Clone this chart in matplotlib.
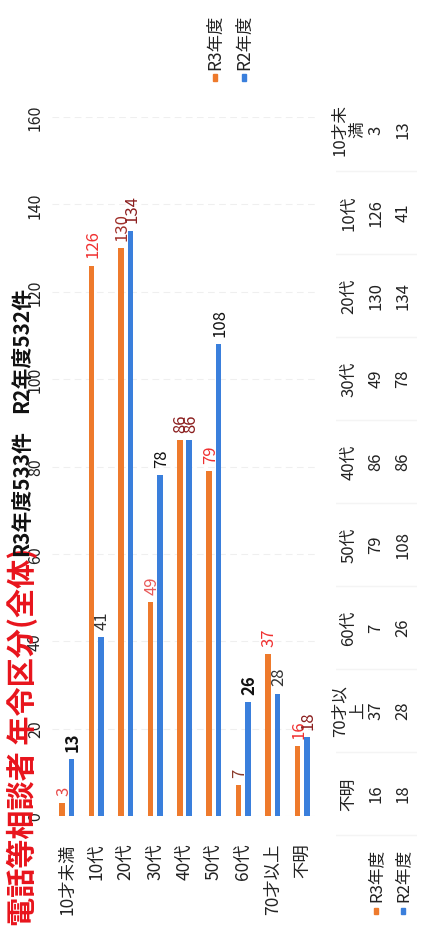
import matplotlib
matplotlib.use("Agg")
import matplotlib.pyplot as plt
from matplotlib.patches import Rectangle

plt.rcParams['font.family'] = ['Noto Sans CJK JP', 'DejaVu Sans']

# data
categories = ['10才未満', '10代', '20代', '30代', '40代', '50代', '60代', '70才以上', '不明']
table_headers = ['10才未\n満', '10代', '20代', '30代', '40代', '50代', '60代', '70才以\n上', '不明']
r3_values = [3, 126, 130, 49, 86, 79, 7, 37, 16]
r2_values = [13, 41, 134, 78, 86, 108, 26, 28, 18]
series_names = ['R3年度', 'R2年度']
value_ticks = [0, 20, 40, 60, 80, 100, 120, 140, 160]

title_red = '電話等相談者 年令区分(全体)'
title_black = ['R3年度533件', 'R2年度532件']

# styles
ORANGE = '#ee7a2c'
BLUE = '#3a7fdc'
r3_label_colors = ['#e84a4a', '#f03030', '#a0302a', '#e85a5a', '#8b1e1e', '#f03030', '#8b3a2a', '#f03030', '#f03030']
r2_label_colors = ['#111111', '#333333', '#8b1e1e', '#111111', '#8b1e1e', '#111111', '#111111', '#333333', '#8b1e1e']

W, H = 426, 928
fig = plt.figure(figsize=(W / 100, H / 100), dpi=100)


def px(x0, y0, x1, y1):
    # pixel box measured from the top-left corner -> figure rect
    return [x0 / W, 1 - y1 / H, (x1 - x0) / W, (y1 - y0) / H]


# the page is turned on its side: bars grow upward, all text reads bottom to top
ax = fig.add_axes(px(52.3, 118, 316.7, 817))
idx = list(range(len(categories)))
bw = 0.19
off = 0.16
ax.bar([i - off for i in idx], r3_values, width=bw, color=ORANGE, zorder=2)
ax.bar([i + off for i in idx], r2_values, width=bw, color=BLUE, zorder=2)

for i in idx:
    ax.annotate(str(r3_values[i]), (i - off, r3_values[i]), xytext=(1, 6),
                textcoords='offset points', rotation=90, ha='center', va='bottom',
                fontsize=12, color=r3_label_colors[i])
    ax.annotate(str(r2_values[i]), (i + off, r2_values[i]), xytext=(1, 6),
                textcoords='offset points', rotation=90, ha='center', va='bottom',
                fontsize=12, color=r2_label_colors[i],
                fontweight='bold' if r2_values[i] in (13, 26) else 'normal')

ax.set_xlim(-0.5, len(categories) - 0.5)
ax.set_ylim(0, 160)
ax.set_yticks(value_ticks)
ax.set_yticklabels([str(v) for v in value_ticks], rotation=90, va='center',
                   fontsize=11.5, color='#222222')
ax.tick_params(axis='y', length=0, pad=6)
ax.set_xticks(idx)
ax.set_xticklabels(categories, rotation=90, fontsize=12.5, color='#222222')
ax.tick_params(axis='x', length=0, pad=19)
ax.yaxis.grid(True, color='#efefef', lw=0.8, ls=(0, (6, 4)))
ax.set_axisbelow(True)
for s in ax.spines.values():
    s.set_visible(False)

# title (red part + black counts), also turned
fig.text(22 / W, 1 - 926 / H, title_red, rotation=90, ha='center', va='bottom',
         fontsize=21, fontweight='bold', color='#e8141c')
fig.text(22 / W, 1 - 556 / H, title_black[0], rotation=90, ha='center', va='bottom',
         fontsize=15, fontweight='bold', color='#111111')
fig.text(22 / W, 1 - 413 / H, title_black[1], rotation=90, ha='center', va='bottom',
         fontsize=15, fontweight='bold', color='#111111')

# legend top right
for k, (name, col) in enumerate(zip(series_names, [ORANGE, BLUE])):
    x = 215 + 29 * k
    fig.text(x / W, 1 - 70 / H, name, rotation=90, ha='center', va='bottom',
             fontsize=12.5, color='#222222')
    fig.add_artist(Rectangle(((x - 2) / W, 1 - 82 / H), 4 / W, 7 / H,
                             transform=fig.transFigure, color=col))

# data table below the chart (on the right side of the turned page)
tab = fig.add_axes(px(335.5, 88.5, 416.5, 918.5))
tab.set_xlim(-0.5, 2.5)
tab.set_ylim(9.5, -0.5)
tab.axis('off')
for j, hdr in enumerate(table_headers):
    tab.text(0, j, hdr, rotation=90, ha='center', va='center', multialignment='center',
             fontsize=12, color='#222222', linespacing=1.1)
    tab.text(1, j, str(r3_values[j]), rotation=90, ha='center', va='center',
             fontsize=12, color='#222222')
    tab.text(2, j, str(r2_values[j]), rotation=90, ha='center', va='center',
             fontsize=12, color='#222222')
    tab.plot([-0.5, 2.5], [j + 0.5, j + 0.5], color='#f4f4f4', lw=1)
for k, (name, col) in enumerate(zip(series_names, [ORANGE, BLUE])):
    tab.text(1 + k, 9.3, name, rotation=90, ha='center', va='bottom',
             fontsize=12, color='#222222')
    tab.add_patch(Rectangle((1 + k - 0.07, 9.38), 0.14, 0.08, color=col))

fig.savefig('out.png', dpi=100)
